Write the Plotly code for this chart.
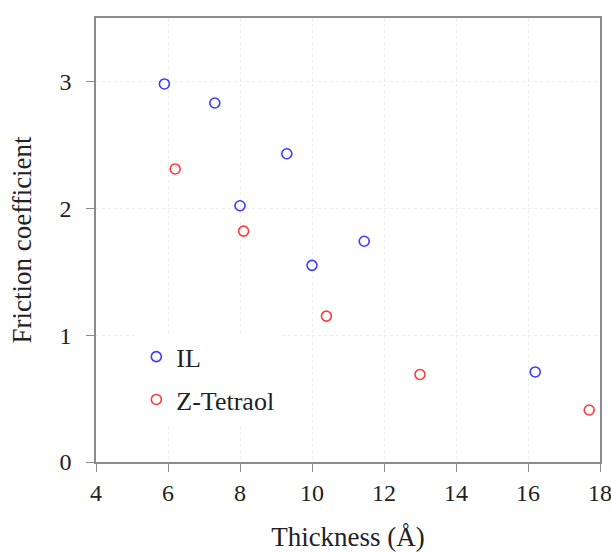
import plotly.graph_objects as go

il_x = [5.9, 7.3, 8.0, 9.3, 10.0, 11.45, 16.2]
il_y = [2.98, 2.83, 2.02, 2.43, 1.55, 1.74, 0.71]
zt_x = [6.2, 8.1, 10.4, 13.0, 17.7]
zt_y = [2.31, 1.82, 1.15, 0.69, 0.41]

font_family = "Liberation Serif, Times New Roman, serif"

fig = go.Figure()
fig.add_trace(go.Scatter(x=il_x, y=il_y, mode="markers", name="IL", legendgroup="a",
                         marker=dict(symbol="circle-open", size=10, color="#3a3aff", line=dict(width=1.6))))
fig.add_trace(go.Scatter(x=zt_x, y=zt_y, mode="markers", name="Z-Tetraol", legendgroup="b",
                         marker=dict(symbol="circle-open", size=10, color="#ff3a3a", line=dict(width=1.6))))

axis_common = dict(
    showline=True, linecolor="#8c8c8c", linewidth=1.5, mirror=True,
    showgrid=True, gridcolor="#ececec", griddash="3px,3px", gridwidth=1,
    ticks="outside", ticklen=8, tickcolor="#8c8c8c", tickwidth=1,
    zeroline=False, tickfont=dict(size=24, color="#222"), automargin=False,
    ticklabeloverflow="allow",
)

fig.update_layout(
    width=611, height=552,
    margin=dict(l=96, r=11, t=18, b=90),
    paper_bgcolor="white", plot_bgcolor="white",
    font=dict(family=font_family, color="#222"),
    xaxis=dict(range=[4, 18], dtick=2, title=dict(text="Thickness (Å)", font=dict(size=27), standoff=26), **axis_common),
    yaxis=dict(range=[0, 3.5], dtick=1, ticklabelstandoff=10,
               title=dict(text="Friction coefficient", font=dict(size=27), standoff=20), **axis_common),
    legend=dict(x=0.08, y=0.29, xanchor="left", yanchor="top", bgcolor="white",
                font=dict(size=26, color="#222"), tracegroupgap=6, itemwidth=30),
    showlegend=True,
)

fig.write_html("out.html")
